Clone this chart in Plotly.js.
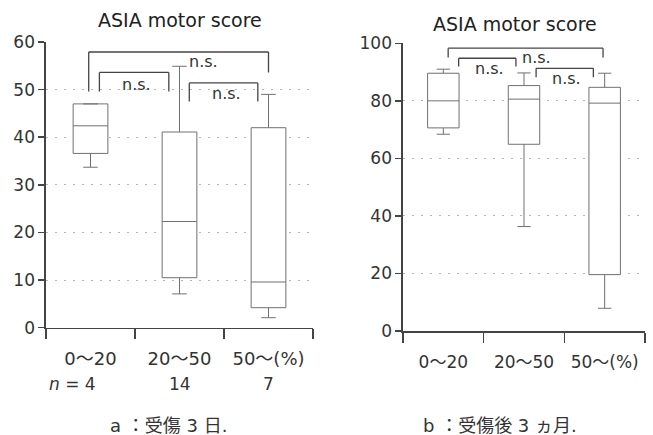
<!DOCTYPE html>
<html><head><meta charset="utf-8">
<script src="https://cdn.plot.ly/plotly-3.0.1.min.js"></script>
<style>html,body{margin:0;padding:0;background:#fff;}#chart{width:653px;height:435px;}</style>
</head><body><div id="chart"></div>
<script>
// ---- data ----
const categories = ["0〜20", "20〜50", "50〜(%)"];
const nCounts = ["4", "14", "7"];
// a: 3 days after injury
const dayLower  = [33.7, 7.1, 2.1];
const dayQ1     = [36.6, 10.5, 4.2];
const dayMedian = [42.4, 22.3, 9.6];
const dayQ3     = [47.0, 41.1, 42.0];
const dayUpper  = [47.0, 54.9, 49.0];
// b: 3 months after injury
const monLower  = [68.4, 36.3, 7.9];
const monQ1     = [70.6, 64.9, 19.6];
const monMedian = [80.0, 80.6, 79.2];
const monQ3     = [89.6, 85.3, 84.7];
const monUpper  = [91.0, 89.7, 89.6];
const titleText = "ASIA motor score";
const sigLabel = "n.s.";
const captionA = "a ：受傷 3 日.";
const captionB = "b ：受傷後 3 ヵ月.";

// ---- bracket geometry (annotation positions, not data) ----
const bracketsA = [
  {x0: -0.02, x1: 2.0, top: 57.9, l0: 49.6, l1: 53.6, tx: 1.27, ty: 55.8},
  {x0: 0.1, x1: 0.88, top: 53.6, l0: 49.6, l1: 49.6, tx: 0.52, ty: 51.0},
  {x0: 1.11, x1: 1.88, top: 51.4, l0: 47.5, l1: 47.5, tx: 1.53, ty: 49.1}
];
const bracketsB = [
  {x0: 0.06, x1: 1.98, top: 98.3, l0: 95.1, l1: 95.1, tx: 1.16, ty: 95.1},
  {x0: 0.19, x1: 0.9, top: 94.8, l0: 91.9, l1: 91.9, tx: 0.57, ty: 91.4},
  {x0: 1.15, x1: 1.86, top: 91.3, l0: 88.2, l1: 88.2, tx: 1.53, ty: 87.7}
];

const FONT = "DejaVu Sans, Noto Sans CJK JP, sans-serif";
const boxStyle = {
  type: "box", fillcolor: "white", line: {color: "#707070", width: 1},
  width: 0.39, whiskerwidth: 0.42, boxpoints: false, hoverinfo: "skip", showlegend: false
};
const data = [
  Object.assign({}, boxStyle, {x: categories, lowerfence: dayLower, q1: dayQ1, median: dayMedian, q3: dayQ3, upperfence: dayUpper, xaxis: "x", yaxis: "y"}),
  Object.assign({}, boxStyle, {x: categories, lowerfence: monLower, q1: monQ1, median: monMedian, q3: monQ3, upperfence: monUpper, xaxis: "x2", yaxis: "y2"})
];

function xAxis(domain, anchor, standoff, fsize) {
  return {domain: domain, anchor: anchor, type: "category", range: [-0.5, 2.5],
    tickson: "boundaries", ticks: "outside", ticklen: 10, tickwidth: 1.5, tickcolor: "#444",
    showline: true, linecolor: "#444", linewidth: 1.6, showgrid: false, zeroline: false,
    tickangle: 0, automargin: false,
    tickfont: {family: FONT, size: fsize, color: "#333"}, ticklabelstandoff: standoff, fixedrange: true};
}
function yAxis(domain, anchor, max, step) {
  const vals = []; for (let v = 0; v <= max; v += step) vals.push(v);
  return {domain: domain, anchor: anchor, range: [0, max], tickvals: vals,
    ticks: "outside", ticklen: 6, tickwidth: 1.5, tickcolor: "#444",
    showline: true, linecolor: "#444", linewidth: 1.6, showgrid: true,
    gridcolor: "#b5b5b5", griddash: "2px,7px", gridwidth: 1, zeroline: false,
    tickfont: {family: FONT, size: 17, color: "#333"}, fixedrange: true};
}

const shapes = [], annotations = [];
function addBrackets(list, xr, yr) {
  list.forEach(b => {
    const ln = {type: "line", xref: xr, yref: yr, line: {color: "#444", width: 1.3}};
    shapes.push(Object.assign({}, ln, {x0: b.x0, x1: b.x0, y0: b.l0, y1: b.top}));
    shapes.push(Object.assign({}, ln, {x0: b.x0, x1: b.x1, y0: b.top, y1: b.top}));
    shapes.push(Object.assign({}, ln, {x0: b.x1, x1: b.x1, y0: b.l1, y1: b.top}));
    annotations.push({xref: xr, yref: yr, x: b.tx, y: b.ty, text: sigLabel, showarrow: false,
      xanchor: "center", yanchor: "middle", font: {family: FONT, size: 16, color: "#333"}});
  });
}
addBrackets(bracketsA, "x", "y");
addBrackets(bracketsB, "x2", "y2");

annotations.push({xref: "paper", yref: "paper", x: 180/653, y: 1 - 20/435, text: titleText, showarrow: false,
  xanchor: "center", yanchor: "middle", font: {family: FONT, size: 19, color: "#222"}});
annotations.push({xref: "paper", yref: "paper", x: 515/653, y: 1 - 24/435, text: titleText, showarrow: false,
  xanchor: "center", yanchor: "middle", font: {family: FONT, size: 19, color: "#222"}});

nCounts.forEach((n, i) => {
  annotations.push({xref: "x", yref: "paper", x: categories[i], y: 1 - 384/435,
    text: i === 0 ? "<i>n</i> = " + n : n, showarrow: false,
    xanchor: i === 0 ? "right" : "center", xshift: i === 0 ? 7 : 0, yanchor: "middle",
    font: {family: FONT, size: 17, color: "#333"}});
});

annotations.push({xref: "paper", yref: "paper", x: 168/653, y: 1 - 425/435, text: captionA, showarrow: false,
  xanchor: "center", yanchor: "middle", font: {family: "DejaVu Sans, Noto Sans CJK JP", size: 18, color: "#333"}});
annotations.push({xref: "paper", yref: "paper", x: 500/653, y: 1 - 425/435, text: captionB, showarrow: false,
  xanchor: "center", yanchor: "middle", font: {family: "DejaVu Sans, Noto Sans CJK JP", size: 18, color: "#333"}});

const layout = {
  width: 653, height: 435, margin: {l: 0, r: 0, t: 0, b: 0},
  paper_bgcolor: "white", plot_bgcolor: "white", showlegend: false,
  xaxis: xAxis([46/653, 313/653], "y", 14, 18),
  yaxis: yAxis([1 - 327.7/435, 1 - 42/435], "x", 60, 10),
  xaxis2: xAxis([403/653, 645/653], "y2", 15, 17),
  yaxis2: yAxis([1 - 331/435, 1 - 43.3/435], "x2", 100, 20),
  shapes: shapes, annotations: annotations
};
Plotly.newPlot("chart", data, layout, {staticPlot: true, displayModeBar: false});
</script></body></html>
